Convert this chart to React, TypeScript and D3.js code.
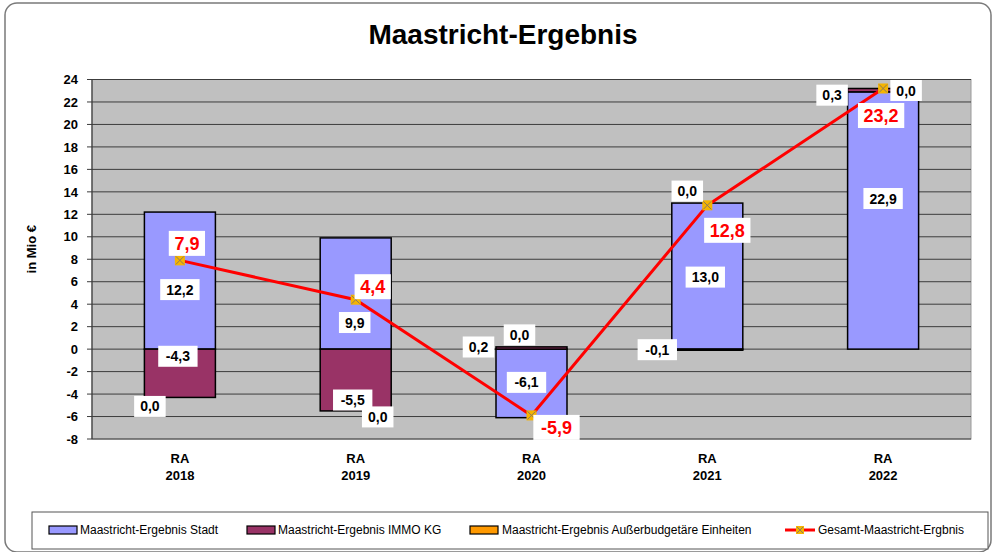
import React from 'react';
import * as d3 from 'd3';

// chart data
const years = ['2018', '2019', '2020', '2021', '2022'];
const stadt = [12.2, 9.9, -6.1, 13.0, 22.9];
const immo = [-4.3, -5.5, 0.2, -0.1, 0.3];
const ausser = [0.0, 0.0, 0.0, 0.0, 0.0];
const gesamt = [7.9, 4.4, -5.9, 12.8, 23.2];
const yTicks = [-8, -6, -4, -2, 0, 2, 4, 6, 8, 10, 12, 14, 16, 18, 20, 22, 24];

const seriesNames = [
  'Maastricht-Ergebnis Stadt',
  'Maastricht-Ergebnis IMMO KG',
  'Maastricht-Ergebnis Außerbudgetäre Einheiten',
];
const lineName = 'Gesamt-Maastricht-Ergbnis';
const colors = ['#9999FF', '#993366', '#FF9900'];

// label nudges (px), as placed by hand in the original
const stadtNudge = [[0, 9], [-1, 29], [-5, -1], [-2, 1], [0, -22]];
const immoNudge = [[-2, -17], [-3, 20], [-53, -1], [-50, 0], [-51, 5]];
const ausserNudge = [[-30, 9], [22, 6], [-12, -12], [-20, -12], [23, 2]];
const totalNudge = [[7, -17], [17, -13], [25, 12], [20, 25], [-2, 27]];

const W = 993;
const H = 552;
const plot = { left: 92, right: 971, top: 79.5, bottom: 439 };
const barW = 71;

const fmt = (v: number) =>
  d3.format('.1f')(v).replace('\u2212', '-').replace('.', ',').replace(/^-0,0$/, '0,0');

const Label = ({ x, y, text, big }: { x: number; y: number; text: string; big?: boolean }) => {
  const fs = big ? 18 : 14;
  const w = text.length * fs * 0.56 + (big ? 6 : 8);
  const h = big ? 25 : 21;
  return (
    <g>
      <rect x={x - w / 2} y={y - h / 2} width={w} height={h} fill="#fff" />
      <text
        x={x}
        y={y}
        dy="0.36em"
        textAnchor="middle"
        fontSize={fs}
        fontWeight="bold"
        fill={big ? '#FF0000' : '#000'}
      >
        {text}
      </text>
    </g>
  );
};

const Marker = ({ x, y, s = 10 }: { x: number; y: number; s?: number }) => (
  <g>
    <rect x={x - s / 2} y={y - s / 2} width={s} height={s} fill="#F5B400" />
    <path
      d={`M${x - s / 2 + 1},${y - s / 2 + 1}L${x + s / 2 - 1},${y + s / 2 - 1}M${x + s / 2 - 1},${y - s / 2 + 1}L${x - s / 2 + 1},${y + s / 2 - 1}`}
      stroke="#8a7a60"
      strokeWidth={1}
    />
  </g>
);

export default function App() {
  const x = d3.scalePoint<string>().domain(years).range([plot.left, plot.right]).padding(0.5);
  const y = d3.scaleLinear().domain([-8, 24]).range([plot.bottom, plot.top]);

  const rows = years.map((yr, i) => ({ year: yr, s0: stadt[i], s1: immo[i], s2: ausser[i] }));
  const stacked = d3
    .stack<any>()
    .keys(['s0', 's1', 's2'])
    .offset(d3.stackOffsetDiverging)(rows);

  const line = d3
    .line<number>()
    .x((_, i) => x(years[i]) as number)
    .y((d) => y(d));

  // where the zero "Außerbudgetäre" labels sit: end of the stack they were placed on
  const posTop = years.map((_, i) => [stadt[i], immo[i]].filter((v) => v > 0).reduce((a, b) => a + b, 0));
  const negBot = years.map((_, i) => [stadt[i], immo[i]].filter((v) => v < 0).reduce((a, b) => a + b, 0));
  const ausserAnchor = years.map((_, i) => (i < 2 ? negBot[i] : posTop[i]));

  const legendY = 530;
  const legendItems = [
    { sw: 49, tx: 80 },
    { sw: 247, tx: 278 },
    { sw: 470, tx: 502 },
  ];

  return (
    <svg
      width={W}
      height={H}
      style={{ position: 'absolute', left: 0, top: 0, fontFamily: 'Liberation Sans, Arial, sans-serif' }}
    >
      <rect x={0} y={0} width={W} height={H} fill="#fff" />
      <rect x={5} y={3} width={986} height={549} rx={12} fill="#fff" stroke="#7a7a7a" strokeWidth={1.5} />

      <text x={503} y={44} textAnchor="middle" fontSize={28} fontWeight="bold">
        Maastricht-Ergebnis
      </text>

      {/* plot area */}
      <rect
        x={plot.left}
        y={plot.top}
        width={plot.right - plot.left}
        height={plot.bottom - plot.top}
        fill="#C0C0C0"
        stroke="#9a9a9a"
      />
      {yTicks.map((t) => (
        <g key={t}>
          <line x1={plot.left} x2={plot.right} y1={y(t)} y2={y(t)} stroke="#3c3c3c" strokeWidth={1} />
          <line x1={plot.left - 5} x2={plot.left} y1={y(t)} y2={y(t)} stroke="#3c3c3c" />
          <text x={plot.left - 14} y={y(t)} dy="0.36em" textAnchor="end" fontSize={13} fontWeight="bold">
            {t}
          </text>
        </g>
      ))}
      <line x1={plot.left} x2={plot.left} y1={plot.top} y2={plot.bottom} stroke="#3c3c3c" strokeWidth={1.2} />

      <text
        transform={`translate(36,${(plot.top + plot.bottom) / 2 - 10}) rotate(-90)`}
        textAnchor="middle"
        fontSize={13}
        fontWeight="bold"
      >
        in Mio €
      </text>

      {/* bars */}
      {stacked.map((s, si) => (
        <g key={si}>
          {s.map((d, i) => {
            const h = Math.abs(y(d[0]) - y(d[1]));
            if (h === 0) return null;
            return (
              <rect
                key={i}
                x={(x(years[i]) as number) - barW / 2}
                y={Math.min(y(d[0]), y(d[1]))}
                width={barW}
                height={h}
                fill={colors[si]}
                stroke="#000"
                strokeWidth={1.5}
              />
            );
          })}
        </g>
      ))}

      {/* x labels */}
      {years.map((yr) => (
        <g key={yr}>
          <text x={x(yr)} y={463} textAnchor="middle" fontSize={13} fontWeight="bold">
            RA
          </text>
          <text x={x(yr)} y={480} textAnchor="middle" fontSize={13} fontWeight="bold">
            {yr}
          </text>
        </g>
      ))}

      {/* total line */}
      <path d={line(gesamt) || ''} fill="none" stroke="#FF0000" strokeWidth={3} />
      {gesamt.map((v, i) => (
        <Marker key={i} x={x(years[i]) as number} y={y(v)} />
      ))}

      {/* data labels */}
      {years.map((yr, i) => {
        const cx = x(yr) as number;
        const sSeg = stacked[0][i];
        const iSeg = stacked[1][i];
        return (
          <g key={yr}>
            <Label x={cx + stadtNudge[i][0]} y={y((sSeg[0] + sSeg[1]) / 2) + stadtNudge[i][1]} text={fmt(stadt[i])} />
            <Label x={cx + immoNudge[i][0]} y={y((iSeg[0] + iSeg[1]) / 2) + immoNudge[i][1]} text={fmt(immo[i])} />
            <Label x={cx + ausserNudge[i][0]} y={y(ausserAnchor[i]) + ausserNudge[i][1]} text={fmt(ausser[i])} />
            <Label x={cx + totalNudge[i][0]} y={y(gesamt[i]) + totalNudge[i][1]} text={fmt(gesamt[i])} big />
          </g>
        );
      })}

      {/* legend */}
      <rect x={32} y={512} width={956} height={37} fill="#fff" stroke="#555" strokeWidth={1} />
      {legendItems.map((l, i) => (
        <g key={i}>
          <rect x={l.sw} y={legendY - 4} width={28} height={8} fill={colors[i]} stroke="#000" strokeWidth={1.2} />
          <text x={l.tx} y={legendY} dy="0.36em" fontSize={12}>
            {seriesNames[i]}
          </text>
        </g>
      ))}
      <line x1={785} x2={815} y1={legendY} y2={legendY} stroke="#FF0000" strokeWidth={3} />
      <Marker x={800} y={legendY} s={8} />
      <text x={818} y={legendY} dy="0.36em" fontSize={12}>
        {lineName}
      </text>
    </svg>
  );
}
